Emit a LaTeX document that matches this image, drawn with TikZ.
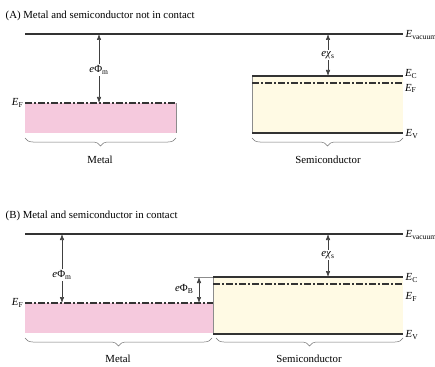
\documentclass[tikz,border=0pt]{standalone}
\usepackage{fontspec}
\setmainfont{Liberation Serif}
\usetikzlibrary{arrows.meta,decorations.pathreplacing}
\definecolor{metalpink}{RGB}{245,201,221}
\definecolor{semicream}{RGB}{255,250,228}

\begin{document}
\begin{tikzpicture}[x=1pt,y=-1pt]
	\tikzset{every node/.style={inner sep=1.5pt, font=\fontsize{10.8}{13}\selectfont},
		level/.style={line width=1.1pt, black!80},
		fermi/.style={line width=1.1pt, black!80, dash pattern=on 7pt off 2pt on 2pt off 2pt},
		gap/.style={-{Latex[length=6pt,width=4.5pt]}, black!75, line width=0.6pt},
		edge/.style={black!45, line width=0.5pt},
		brace/.style={decorate, decoration={brace, mirror, amplitude=8pt}, black!55, line width=0.5pt}}
	\useasboundingbox (0,0) rectangle (435,366);

	% (A) not in contact
	\node[anchor=west] (titleA) at (4,16) {(A) Metal and semiconductor not in contact};
	\draw[level] (25,34) coordinate (vacA) -- (403,34) coordinate (vacAend);
	\node[anchor=west] (EvacA) at (404,35) {\textit{E}\textsubscript{vacuum}};
	\fill[metalpink] (25,103) rectangle (176,133);
	\draw[edge] (176,103) -- (176,133);
	\draw[fermi] (25,103) coordinate (fermiMA) -- (176,103);
	\node[anchor=east] (EFmA) at (fermiMA) {\textit{E}\textsubscript{F}};
	\node (phimA) at (99,70) {\textit{e}Φ\textsubscript{m}};
	\draw[gap] (phimA.north) -- (phimA.north |- vacA);
	\draw[gap] (phimA.south) -- (phimA.south |- fermiMA);
	\fill[semicream] (252,76) rectangle (403,133);
	\draw[edge] (252,76) -- (252,133);
	\draw[level] (252,76) coordinate (condA) -- (403,76);
	\draw[fermi] (252,83) -- (403,83);
	\draw[level] (252,133) -- (403,133);
	\node[anchor=west, inner sep=0.3pt] (ECA) at (404.5,74) {\textit{E}\textsubscript{C}};
	\node[anchor=west, inner sep=0.3pt] (EFsA) at (404.5,88.5) {\textit{E}\textsubscript{F}};
	\node[anchor=west] (EVA) at (404,134) {\textit{E}\textsubscript{V}};
	\node (chiA) at (328,55) {\textit{eχ}\textsubscript{s}};
	\draw[gap] (chiA.north) -- (chiA.north |- vacA);
	\draw[gap] (chiA.south) -- (chiA.south |- condA);
	\draw[brace] (25,138) -- (176,138);
	\node (metalA) at (100,160) {Metal};
	\draw[brace] (252,138) -- (403,138);
	\node (semiA) at (328,160) {Semiconductor};

	% (B) in contact
	\node[anchor=west] (titleB) at (4,216) {(B) Metal and semiconductor in contact};
	\draw[level] (25,234) coordinate (vacB) -- (403,234);
	\node[anchor=west] (EvacB) at (404,235) {\textit{E}\textsubscript{vacuum}};
	\fill[metalpink] (25,303) rectangle (213,333);
	\draw[fermi] (25,303) coordinate (fermiMB) -- (213,303);
	\node[anchor=east] (EFmB) at (fermiMB) {\textit{E}\textsubscript{F}};
	\node (phimB) at (62,275) {\textit{e}Φ\textsubscript{m}};
	\draw[gap] (phimB.north) -- (phimB.north |- vacB);
	\draw[gap] (phimB.south) -- (phimB.south |- fermiMB);
	\fill[semicream] (213,277) rectangle (403,334);
	\draw[edge] (213,277) -- (213,334);
	\draw[level] (213,277) coordinate (condB) -- (403,277);
	\draw[fermi] (213,284) -- (403,284);
	\draw[level] (213,334) -- (403,334);
	\draw[edge] (194,277) coordinate (barrier) -- (condB);
	\draw[gap, {Latex[length=6pt,width=4.5pt]}-{Latex[length=6pt,width=4.5pt]}] (199,277) -- (199,303);
	\node[anchor=east] (phiB) at (195,289) {\textit{e}Φ\textsubscript{B}};
	\node[anchor=west] (ECB) at (404,278) {\textit{E}\textsubscript{C}};
	\node[anchor=west] (EFsB) at (404,297) {\textit{E}\textsubscript{F}};
	\node[anchor=west] (EVB) at (404,335) {\textit{E}\textsubscript{V}};
	\node (chiB) at (328,255) {\textit{eχ}\textsubscript{s}};
	\draw[gap] (chiB.north) -- (chiB.north |- vacB);
	\draw[gap] (chiB.south) -- (chiB.south |- condB);
	\draw[brace] (25,338) -- (212,338);
	\node (metalB) at (118,359) {Metal};
	\draw[brace] (216,338) -- (403,338);
	\node (semiB) at (309,359) {Semiconductor};
\end{tikzpicture}
\end{document}
